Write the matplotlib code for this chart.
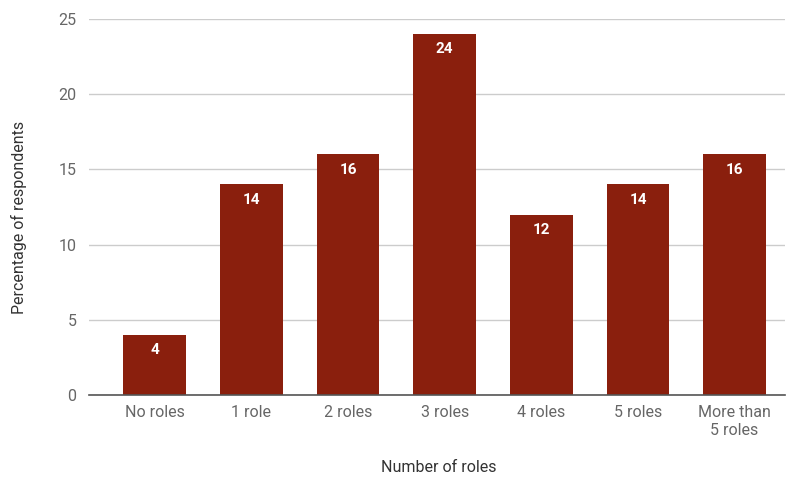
import matplotlib
matplotlib.use('Agg')
import matplotlib.pyplot as plt

categories = ['No roles', '1 role', '2 roles', '3 roles', '4 roles', '5 roles', 'More than\n5 roles']
values = [4, 14, 16, 24, 12, 14, 16]
yticks = [0, 5, 10, 15, 20, 25]

plt.rcParams['font.family'] = ['Roboto', 'DejaVu Sans']
bar_color = '#8a1f0d'
text_gray = '#666666'

fig = plt.figure(figsize=(7.96, 4.78), dpi=100)
ax = fig.add_axes([0.1118, 0.1736, 0.8742, 0.7866])

x = list(range(len(categories)))
bars = ax.bar(x, values, width=0.65, color=bar_color, zorder=3)
for xi, v in zip(x, values):
    ax.text(xi, v - 0.55, str(v), ha='center', va='top', color='white',
            fontsize=11, fontweight='bold', zorder=4)

ax.set_xlim(-0.68, 6.52)
ax.set_ylim(0, 25)
ax.set_yticks(yticks)
ax.set_xticks(x)
ax.set_xticklabels(categories, linespacing=1.25)
ax.tick_params(axis='both', length=0, colors=text_gray, labelsize=11.5)
ax.tick_params(axis='x', pad=7)
ax.tick_params(axis='y', pad=9)
ax.grid(axis='y', color='#cccccc', linewidth=1, zorder=0)
for s in ['top', 'right', 'left']:
    ax.spines[s].set_visible(False)
ax.spines['bottom'].set_color('#555555')
ax.spines['bottom'].set_linewidth(1.2)
ax.spines['bottom'].set_zorder(5)

ax.set_xlabel('Number of roles', color='#333333', fontsize=11.5)
ax.set_ylabel('Percentage of respondents', color='#333333', fontsize=11.5)
ax.xaxis.set_label_coords(0.503, -0.172)
ax.yaxis.set_label_coords(-0.089, 0.473)

fig.savefig('out.png', dpi=100)
